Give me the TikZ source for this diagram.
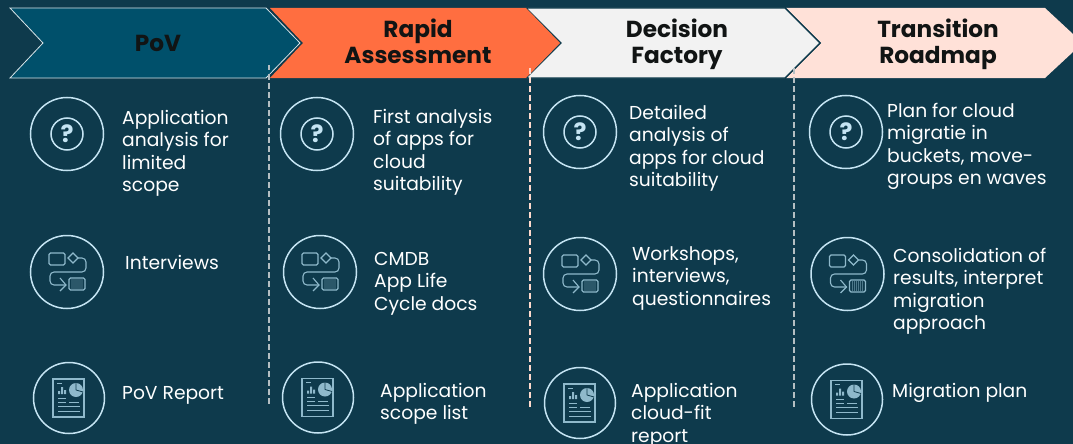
\documentclass[tikz,border=0pt]{standalone}
\usepackage{fontspec}
\setmainfont{Poppins}
\definecolor{bgc}{HTML}{0E3A4C}
\definecolor{ringc}{HTML}{C5E4F3}
\definecolor{iconc}{HTML}{8FB9CB}
\definecolor{povc}{HTML}{00506B}
\definecolor{orc}{HTML}{FF6E40}
\definecolor{grc}{HTML}{F2F2F2}
\definecolor{pkc}{HTML}{FFE1D8}
\definecolor{inkc}{HTML}{111414}
\definecolor{sepg}{HTML}{B4BEC2}
\definecolor{sepp}{HTML}{FFD9CC}
\tikzset{
 x=1pt,y=-1pt,
 ring/.style={draw=ringc,line width=1.5pt},
 ico/.style={draw=iconc,line width=1.1pt},
 body/.style={anchor=north west,align=left,inner sep=0pt,text=white,font=\fontsize{18.7}{22.5}\selectfont},
 head/.style={align=center,inner sep=0pt,text=inkc,font=\fontsize{23.2}{26}\selectfont\bfseries},
 sep/.style={line width=1.2pt,dash pattern=on 5.5pt off 3.5pt},
 qicon/.pic={
  \node[ring,circle,minimum size=73pt,inner sep=0pt] (-c) at (0,0) {};
  \node[draw=ringc,line width=1.5pt,circle,minimum size=32pt,inner sep=0pt,text=ringc,font=\fontsize{24}{24}\selectfont\bfseries] (-q) at (0,0) {?};
 },
 flowicon/.pic={
  \node[ring,circle,minimum size=73pt,inner sep=0pt] (-c) at (0,0) {};
  \draw[ico,rounded corners=1.5pt] (-18,-19) rectangle (-2,-7);
  \draw[ico] (6,-19) -- (11,-14) -- (6,-9) -- (1,-14) -- cycle;
  \draw[ico,rounded corners=4pt] (11,-14) -- (19,-14) -- (19,0) -- (-17,0) -- (-17,13) -- (-1,13);
  \draw[ico] (-7,6) -- (-1,13) -- (-7,19);
  \draw[ico,rounded corners=1.5pt] (2,6) rectangle (18,18);
  \foreach \i in {5,7,...,15} \foreach \j in {8,10,...,16} \fill[iconc] (\i,\j) circle (.55pt);
 },
 reporticon/.pic={
  \node[ring,circle,minimum size=71pt,inner sep=0pt] (-c) at (0,0) {};
  \draw[ico] (-16,-19) -- (-16,19) -- (15,19) -- (15,-19) -- cycle;
  \draw[iconc,line width=1pt] (-12,-15) -- (-7,-15);
  \fill[iconc] (-11,-7) rectangle (-9,-4) (-8,-11) rectangle (-6,-4) (-5,-8) rectangle (-3,-4);
  \fill[iconc] (7,-8) circle (7pt);
  \draw[bgc,line width=.8pt] (7,-8) -- (7,-16) (7,-8) -- (14,-6);
  \draw[iconc,line width=1pt] (-11,0) -- (-3,0) (-11,4) -- (-3,4) (0,4) -- (10,4) (-11,8) -- (11,8) (-11,13) -- (11,13);
 }
}
\begin{document}
\begin{tikzpicture}
\useasboundingbox (0,0) rectangle (1073,444);
\fill[bgc] (0,0) rectangle (1073,444);
% chevrons
\path[fill=pkc] (786,8) -- (1045,8) -- (1073,34) -- (1073,52) -- (1045,78) -- (786,78) -- (821,43) -- cycle;
\path[fill=grc,draw=bgc,line width=1.4pt] (526,8) -- (785,8) -- (820,43) -- (785,78) -- (526,78) -- (561,43) -- cycle;
\path[fill=orc] (270,8) -- (526,8) -- (560,43) -- (526,78) -- (270,78) -- (303,43) -- cycle;
\path[fill=povc,draw=white!85!povc,line width=.8pt] (10,8) -- (266,8) -- (300,43) -- (266,78) -- (10,78) -- (43,43) -- cycle;
\node[head] (h1) at (158,43) {PoV};
\node[head] (h2) at (418,41) {Rapid\\Assessment};
\node[head] (h3) at (677,44) {Decision\\Factory};
\node[head] (h4) at (938,44) {Transition\\Roadmap};
% separators
\coordinate (s1a) at (269,65); \coordinate (s1b) at (269,405);
\coordinate (s2a) at (530,68); \coordinate (s2b) at (530,408);
\coordinate (s3a) at (794,68); \coordinate (s3b) at (794,408);
\draw[sep,draw=sepg] (s1a) -- (s1b);
\draw[sep,draw=sepp] (s2a) -- (s2b);
\draw[sep,draw=sepg] (s3a) -- (s3b);
% icons
\pic (a1) at (67,134) {qicon};
\pic (a2) at (67,272) {flowicon};
\pic (a3) at (69,398) {reporticon};
\pic (b1) at (317,134) {qicon};
\pic (b2) at (320,272) {flowicon};
\pic (b3) at (318,397.5) {reporticon};
\pic (c1) at (580,132) {qicon};
\pic (c2) at (580,274) {flowicon};
\pic (c3) at (580,403) {reporticon};
\pic (d1) at (846,132) {qicon};
\pic (d2) at (847.5,274) {flowicon};
\pic (d3) at (847,399.5) {reporticon};
% text
\node[body] (t11) at (122,110) {Application\\analysis for\\limited\\scope};
\node[body] (t12) at (125,255) {Interviews};
\node[body] (t13) at (122,386) {PoV Report};
\node[body] (t21) at (373,109) {First analysis\\of apps for\\cloud\\suitability};
\node[body] (t22) at (374,252) {CMDB\\App Life\\Cycle docs};
\node[body] (t23) at (380,383) {Application\\scope list};
\node[body] (t31) at (629,105) {Detailed\\analysis of\\apps for cloud\\suitability};
\node[body] (t32) at (632,246) {Workshops,\\interviews,\\questionnaires};
\node[body] (t33) at (631,383) {Application\\cloud-fit\\report};
\node[body] (t41) at (887,103) {Plan for cloud\\migratie in\\buckets, move-\\groups en waves};
\node[body] (t42) at (893,248) {Consolidation of\\results, interpret\\migration\\approach};
\node[body] (t43) at (892,383) {Migration plan};
\end{tikzpicture}
\end{document}
